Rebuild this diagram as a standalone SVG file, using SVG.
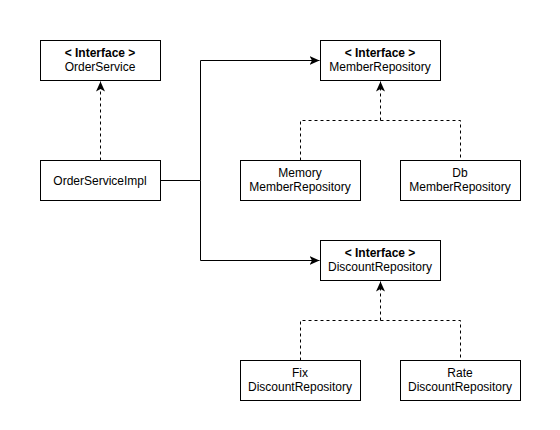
<svg xmlns="http://www.w3.org/2000/svg" width="560" height="430" viewBox="0 0 560 430">
<style>
.box{fill:#fff;stroke:#000;stroke-width:1}
text{font-family:"Liberation Sans",Arial,Helvetica,sans-serif;font-size:12px;fill:#000;text-anchor:middle}
.b{font-weight:bold}
.line{fill:none;stroke:#000;stroke-width:1}
.dash{stroke-dasharray:3 3}
</style>
<defs>
<marker id="arr" markerUnits="userSpaceOnUse" viewBox="0 0 10 9" refX="10" refY="4.5" markerWidth="10" markerHeight="9" orient="auto">
<path d="M0,0 L10,4.5 L0,9 L2.5,4.5 Z" fill="#000"/>
</marker>
</defs>
<rect width="560" height="430" fill="#fff"/>
<g id="connectors">
<path class="line" d="M160.5,180.5 H200.5 V60.5 H319.5" marker-end="url(#arr)"/>
<path class="line" d="M200.5,180.5 V260.5 H319.5" marker-end="url(#arr)"/>
<path class="line dash" d="M100.5,160.5 V81.5" marker-end="url(#arr)"/>
<path class="line dash" d="M300.5,160.5 V120.5 H460.5 V160.5"/>
<path class="line dash" d="M380.5,120.5 V81.5" marker-end="url(#arr)"/>
<path class="line dash" d="M300.5,360.5 V320.5 H460.5 V360.5"/>
<path class="line dash" d="M380.5,320.5 V281.5" marker-end="url(#arr)"/>
</g>
<g id="OrderService">
<rect class="box" x="40.5" y="40.5" width="120" height="40"/>
<text x="100" y="57" class="b">&lt; Interface &gt;</text>
<text x="100" y="71">OrderService</text>
</g>
<g id="OrderServiceImpl">
<rect class="box" x="40.5" y="160.5" width="120" height="40"/>
<text x="100" y="185">OrderServiceImpl</text>
</g>
<g id="MemberRepository">
<rect class="box" x="320.5" y="40.5" width="120" height="40"/>
<text x="380" y="57" class="b">&lt; Interface &gt;</text>
<text x="380" y="71">MemberRepository</text>
</g>
<g id="MemoryMemberRepository">
<rect class="box" x="240.5" y="160.5" width="120" height="40"/>
<text x="300" y="177">Memory</text>
<text x="300" y="191">MemberRepository</text>
</g>
<g id="DbMemberRepository">
<rect class="box" x="400.5" y="160.5" width="120" height="40"/>
<text x="460" y="177">Db</text>
<text x="460" y="191">MemberRepository</text>
</g>
<g id="DiscountRepository">
<rect class="box" x="320.5" y="240.5" width="120" height="40"/>
<text x="380" y="257" class="b">&lt; Interface &gt;</text>
<text x="380" y="271">DiscountRepository</text>
</g>
<g id="FixDiscountRepository">
<rect class="box" x="240.5" y="360.5" width="120" height="40"/>
<text x="300" y="377">Fix</text>
<text x="300" y="391">DiscountRepository</text>
</g>
<g id="RateDiscountRepository">
<rect class="box" x="400.5" y="360.5" width="120" height="40"/>
<text x="460" y="377">Rate</text>
<text x="460" y="391">DiscountRepository</text>
</g>
</svg>
